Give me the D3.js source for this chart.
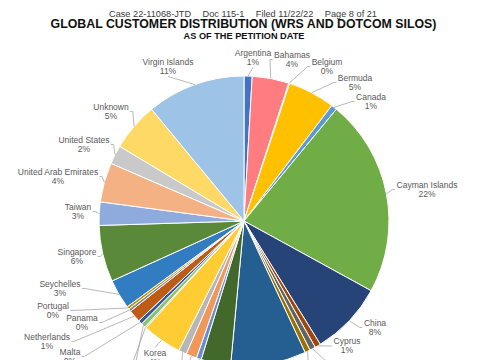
<!DOCTYPE html>
<html><head><meta charset="utf-8">
<script src="https://cdn.jsdelivr.net/npm/d3@7"></script>
<style>html,body{margin:0;padding:0;background:#fff}svg{display:block}</style>
</head><body>
<script>
// ---- data ----
const categories = ["Argentina","Bahamas","Belgium","Bermuda","Canada","Cayman Islands","China","Cyprus",
  "Estonia","Gibraltar","Hong Kong","Japan","Jersey","Kazakhstan","Kenya","Korea","Liechtenstein","Lithuania",
  "Malta","Netherlands","Panama","Portugal","Seychelles","Singapore","Taiwan","United Arab Emirates",
  "United States","Unknown","Virgin Islands"];
const shares = [0.9,4.1,0.1,5.25,0.65,22.0,8.2,0.65,
  0.65,0.6,8.4,3.3,0.55,1.2,0.9,4.4,0.15,0.5,
  0.45,1.4,0.3,0.3,3.3,6.3,2.6,4.4,
  2.1,5.4,11.0];

// ---- styles ----
const sliceColors = ["#4472C4","#FF7C80","#A5A5A5","#FFC000","#5B9BD5","#70AD47","#264478","#9E480E",
  "#636363","#997300","#255E91","#43682B","#698ED0","#F1975A","#B7B7B7","#FFCD33","#7CAFDD","#8CC168",
  "#335AA1","#BE5B16","#848484","#BF9000","#327DC2","#5A8A39","#8FAADC","#F4B183",
  "#C9C9C9","#FFD966","#9DC3E6"];
// label layout (centre of the name line); labels below the picture's bottom edge are cut off as in the reference
const labelLayout = {
  "Argentina":[253,53],"Bahamas":[292,55],"Belgium":[327,62],"Bermuda":[355,78],"Canada":[371,97],
  "Cayman Islands":[427,185],"China":[375,323],"Cyprus":[347,341.5],
  "Estonia":[352,364],"Gibraltar":[330,382],"Hong Kong":[280,394],"Japan":[232,402],"Jersey":[207,378],
  "Kazakhstan":[178,406],"Kenya":[165,380],"Korea":[155,353],"Liechtenstein":[98,374],"Lithuania":[130,396],
  "Malta":[70,352],"Netherlands":[47,337],"Panama":[82,318],"Portugal":[53,306],"Seychelles":[60,284],
  "Singapore":[77,252],"Taiwan":[78,207],"United Arab Emirates":[58,172],"United States":[84,140],
  "Unknown":[111,107],"Virgin Islands":[168,62]
};

const W = 485, H = 360;
const cx = 244, cy = 221, R = 145;
const font = "'Liberation Sans', Arial, sans-serif";

const svg = d3.select("body").append("svg").attr("width", W).attr("height", H)
  .style("font-family", font);
svg.append("rect").attr("width", W).attr("height", H).attr("fill", "#fff");

// header
const hdr = svg.append("text").attr("x", 243).attr("y", 16.5).attr("text-anchor", "middle")
  .attr("font-size", 9.2).attr("fill", "#3a3a3a");
["Case 22-11068-JTD","Doc 115-1","Filed 11/22/22","Page 8 of 21"].forEach((t,i)=>{
  hdr.append("tspan").attr("dx", i ? 11.5 : 0).text(t);
});
svg.append("text").attr("x", 243.5).attr("y", 28.3).attr("text-anchor", "middle")
  .attr("font-size", 12.35).attr("font-weight", "bold").attr("fill", "#111")
  .text("GLOBAL CUSTOMER DISTRIBUTION (WRS AND DOTCOM SILOS)");
svg.append("text").attr("x", 244).attr("y", 39).attr("text-anchor", "middle")
  .attr("font-size", 9.2).attr("font-weight", "bold").attr("fill", "#111")
  .text("AS OF THE PETITION DATE");

const data = categories.map((c,i)=>({name:c, v:shares[i], color:sliceColors[i]}));
const total = d3.sum(shares);
const pie = d3.pie().sort(null).value(d=>d.v);
const arcs = pie(data);
const arc = d3.arc().innerRadius(0).outerRadius(R);

const g = svg.append("g").attr("transform", `translate(${cx},${cy})`);
g.selectAll("path").data(arcs).join("path")
  .attr("d", arc).attr("fill", d=>d.data.color)
  .attr("stroke", "#fff").attr("stroke-width", 1).attr("stroke-linejoin","round");

// labels + leader lines
const lines = svg.append("g");
const labs = svg.append("g").attr("font-size", 8.5).attr("fill", "#595959").attr("text-anchor", "middle");
arcs.forEach(a=>{
  const pos = labelLayout[a.data.name];
  const lx = pos[0], ly = pos[1];
  const t1 = labs.append("text").attr("x", lx).attr("y", ly).attr("dy", "0.35em").text(a.data.name);
  const t2 = labs.append("text").attr("x", lx).attr("y", ly + 9).attr("dy", "0.35em")
    .text(Math.round(a.data.v / total * 100) + "%");
  const w = Math.max(t1.node().getComputedTextLength(), t2.node().getComputedTextLength());
  const left = lx - w/2 - 1.5, right = lx + w/2 + 1.5, top = ly - 5.5, bottom = ly + 14.5;
  const mid = (a.startAngle + a.endAngle) / 2;
  const px = cx + R * Math.sin(mid), py = cy - R * Math.cos(mid);
  if (px >= left && px <= right && py >= top && py <= bottom) return;
  let pts;
  const my = ly + 4.5;
  if (px > right) pts = [[right, my], [right + 2.5, my], [px, py]];
  else if (px < left) pts = [[left, my], [left - 2.5, my], [px, py]];
  else if (py < top) pts = [[lx, top], [px, py]];
  else pts = [[lx, bottom], [px, py]];
  lines.append("path").attr("d", d3.line()(pts)).attr("fill", "none")
    .attr("stroke", "#A6A6A6").attr("stroke-width", 0.8);
});
</script>
</body></html>
